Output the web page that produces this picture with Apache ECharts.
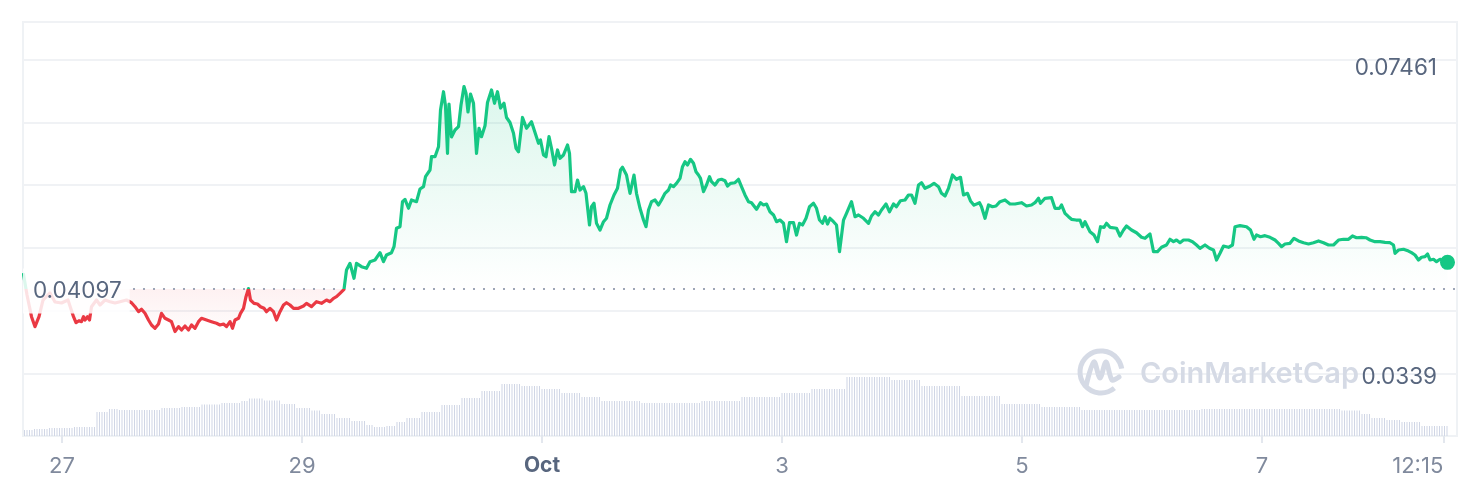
<!DOCTYPE html>
<html><head><meta charset="utf-8">
<script src="https://cdn.jsdelivr.net/npm/echarts@6/dist/echarts.min.js"></script>
<style>html,body{margin:0;padding:0;background:#fff}#c{width:1484px;height:502px}</style>
</head><body><div id="c"></div>
<script>
// Price data: [hours since Sep 27 00:00, price in USD]
const openPrice = 0.04097;
const highPrice = 0.07461;
const lowPrice = 0.0339;
const tickHours = [0, 48, 96, 144, 192, 240, 276.25];
const tickLabels = ['27', '29', 'Oct', '3', '5', '7', '12:15'];
const pricePoints = [
[-7.7,0.04341],[-7.0,0.03997],[-6.1,0.03637],[-5.4,0.03471],[-5.1,0.03449],[-4.6,0.03637],[-3.8,0.03914],[-2.4,0.04031],[-1.4,0.03881],[-0.1,0.03864],[1.2,0.03914],[2.3,0.03637],[2.8,0.03537],[3.4,0.03570],[3.9,0.03554],[4.3,0.03637],[4.6,0.03582],[5.1,0.03637],[5.5,0.03582],[5.9,0.03803],[6.9,0.03914],[7.6,0.03831],[8.6,0.03914],[9.6,0.03886],[10.6,0.03864],[11.6,0.03886],[12.9,0.03914],
[13.9,0.03869],[14.6,0.03803],[15.3,0.03720],[15.9,0.03760],[16.6,0.03693],[17.3,0.03582],[17.9,0.03499],[18.6,0.03444],[19.3,0.03515],[19.9,0.03693],[20.6,0.03610],[21.3,0.03582],[21.9,0.03554],[22.6,0.03390],[23.3,0.03471],[23.9,0.03416],[24.6,0.03483],[25.3,0.03416],[25.9,0.03499],[26.6,0.03444],[27.3,0.03554],[27.9,0.03610],[28.9,0.03582],[29.9,0.03554],[30.9,0.03527],[31.6,0.03499],[32.3,0.03515],[32.9,0.03471],[33.6,0.03554],[34.1,0.03444],[34.6,0.03582],[35.3,0.03610],[35.7,0.03693],[36.3,0.03776],[36.8,0.03969],[37.3,0.04105],[37.7,0.03914],[38.4,0.03859],[39.1,0.03848],[39.7,0.03803],[40.4,0.03776],[40.9,0.03720],[41.6,0.03776],[42.3,0.03720],[42.9,0.03582],[43.6,0.03720],[44.3,0.03831],[44.9,0.03869],[45.6,0.03831],[46.3,0.03776],[47.3,0.03776],[48.3,0.03814],[48.9,0.03859],[49.9,0.03803],[50.9,0.03886],[51.9,0.03859],[52.9,0.03914],[53.6,0.03886],[54.3,0.03942],[54.9,0.03969],[55.6,0.04025],[56.4,0.04090],
[56.9,0.04413],[57.6,0.04524],[58.4,0.04275],[58.9,0.04524],[59.9,0.04468],[60.9,0.04441],[61.6,0.04551],[62.6,0.04579],[63.6,0.04700],[64.3,0.04551],[64.9,0.04662],[65.9,0.04700],[66.4,0.04800],[66.9,0.05106],[67.6,0.05132],[68.1,0.05548],[68.6,0.05587],[69.3,0.05438],[69.9,0.05576],[70.9,0.05548],[71.6,0.05759],[72.3,0.05797],[72.7,0.05963],[73.6,0.06074],[73.9,0.06295],[74.6,0.06295],[75.3,0.06461],[75.7,0.07071],[76.3,0.07375],[76.7,0.07138],[77.1,0.06352],[77.4,0.07171],[77.9,0.06623],[78.6,0.06739],[79.3,0.06794],[79.8,0.07154],[80.4,0.07461],[80.8,0.07349],[81.2,0.07038],[81.7,0.07337],[82.3,0.07183],[82.9,0.06352],[83.4,0.06767],[83.9,0.06628],[84.6,0.06809],[85.1,0.07196],[85.9,0.07404],[86.5,0.07183],[87.1,0.07375],[87.7,0.07104],[88.4,0.07183],[88.9,0.06947],[89.6,0.06864],[90.3,0.06684],[90.8,0.06435],[91.3,0.06378],[92.1,0.06947],[92.9,0.06767],[93.9,0.06877],[94.6,0.06697],[95.3,0.06518],[95.7,0.06573],[96.3,0.06324],[96.8,0.06295],[97.4,0.06628],[97.9,0.06435],[98.5,0.06157],[99.1,0.06407],[99.6,0.06269],[100.3,0.06324],[101.1,0.06490],[101.5,0.06352],[101.9,0.05714],[102.6,0.05714],[103.1,0.05908],[103.6,0.05742],[104.3,0.05797],[104.8,0.05687],[105.5,0.05161],[105.9,0.05464],[106.4,0.05521],[106.9,0.05189],[107.6,0.05077],[108.3,0.05215],[108.9,0.05272],[109.6,0.05493],[110.4,0.05659],[111.1,0.05770],[111.7,0.06074],[112.1,0.06119],[112.9,0.05991],[113.6,0.05687],[113.9,0.05687],[114.4,0.05991],[114.9,0.05687],[115.6,0.05438],[116.3,0.05243],[116.8,0.05132],[117.3,0.05410],[117.9,0.05548],[118.6,0.05576],[119.3,0.05493],[119.9,0.05576],[120.6,0.05687],[121.3,0.05742],[121.7,0.05825],[122.3,0.05797],[122.9,0.05853],[123.6,0.05936],[124.1,0.06129],[124.6,0.06212],[125.1,0.06157],[125.7,0.06252],[126.3,0.06186],[126.8,0.06046],[127.3,0.05991],[127.7,0.05936],[128.3,0.05714],[128.9,0.05825],[129.5,0.05963],[129.9,0.05880],[130.6,0.05825],[131.3,0.05908],[131.9,0.05920],[132.6,0.05896],[133.1,0.05808],[133.7,0.05853],[134.6,0.05863],[135.3,0.05920],[135.9,0.05797],[136.6,0.05659],[137.3,0.05548],[137.9,0.05531],[138.9,0.05421],[139.7,0.05531],[140.3,0.05493],[140.9,0.05509],[141.6,0.05381],[142.3,0.05327],[142.9,0.05215],[143.6,0.05243],[144.3,0.05189],[144.9,0.04883],[145.5,0.05199],[146.3,0.05199],[146.9,0.04994],[147.5,0.05189],[148.1,0.05161],[148.8,0.05272],[149.5,0.05464],[150.3,0.05521],[150.9,0.05438],[151.5,0.05243],[152.1,0.05189],[152.6,0.05298],[153.1,0.05177],[153.6,0.05272],[154.3,0.05215],[154.9,0.05161],[155.5,0.04717],[155.9,0.04745],[156.3,0.05243],[156.9,0.05355],[157.9,0.05548],[158.6,0.05298],[159.3,0.05327],[160.3,0.05272],[161.3,0.05189],[161.9,0.05310],[162.6,0.05381],[163.3,0.05327],[163.9,0.05410],[164.8,0.05509],[165.5,0.05381],[166.3,0.05509],[166.9,0.05464],[167.7,0.05564],[168.6,0.05576],[169.3,0.05659],[169.9,0.05659],[170.6,0.05521],[171.3,0.05825],[171.9,0.05863],[172.6,0.05770],[173.6,0.05808],[174.4,0.05853],[175.3,0.05797],[175.9,0.05687],[176.6,0.05642],[177.3,0.05770],[178.1,0.05991],[178.9,0.05920],[179.7,0.05953],[180.3,0.05659],[181.1,0.05687],[181.7,0.05560],[182.4,0.05490],[182.8,0.05464],[183.5,0.05531],[183.9,0.05464],[184.6,0.05272],[185.3,0.05493],[186.1,0.05464],[186.8,0.05476],[187.6,0.05548],[188.6,0.05576],[189.6,0.05509],[190.6,0.05509],[191.9,0.05531],[192.9,0.05476],[193.9,0.05493],[194.6,0.05531],[195.3,0.05604],[195.7,0.05521],[196.6,0.05604],[197.9,0.05614],[198.6,0.05438],[199.5,0.05438],[199.9,0.05493],[200.6,0.05355],[201.3,0.05298],[201.9,0.05255],[202.8,0.05243],[203.6,0.05243],[204.1,0.05132],[204.6,0.05215],[205.1,0.05132],[205.6,0.05049],[206.4,0.04994],[207.1,0.04883],[207.7,0.05132],[208.4,0.05122],[208.9,0.05189],[209.6,0.05122],[210.9,0.05106],[211.6,0.04978],[212.3,0.05077],[212.9,0.05144],[213.9,0.05077],[214.9,0.05032],[215.9,0.04956],[216.6,0.04939],[217.6,0.05011],[218.3,0.04717],[219.1,0.04717],[219.9,0.04790],[220.9,0.04828],[221.6,0.04923],[222.3,0.04883],[222.9,0.04911],[223.6,0.04866],[224.3,0.04911],[225.3,0.04911],[226.1,0.04883],[226.9,0.04828],[227.6,0.04773],[228.6,0.04828],[229.5,0.04773],[230.3,0.04745],[230.9,0.04579],[231.6,0.04690],[232.3,0.04811],[233.3,0.04790],[234.1,0.04828],[234.6,0.05132],[235.6,0.05149],[236.9,0.05132],[237.7,0.05077],[238.4,0.04923],[238.9,0.04994],[239.7,0.04966],[240.6,0.04983],[241.6,0.04956],[242.6,0.04911],[243.3,0.04856],[243.9,0.04800],[244.6,0.04845],[245.6,0.04856],[246.4,0.04939],[247.3,0.04895],[248.3,0.04866],[249.3,0.04845],[250.3,0.04866],[251.3,0.04895],[252.3,0.04866],[253.3,0.04828],[254.3,0.04828],[255.3,0.04911],[256.3,0.04923],[257.3,0.04923],[258.1,0.04978],[258.9,0.04949],[259.9,0.04956],[260.8,0.04949],[261.6,0.04911],[262.6,0.04883],[263.6,0.04883],[264.6,0.04873],[265.6,0.04866],[266.3,0.04828],[266.6,0.04690],[267.3,0.04745],[268.3,0.04757],[269.3,0.04728],[269.9,0.04700],[270.6,0.04662],[271.3,0.04579],[271.9,0.04624],[272.6,0.04634],[273.1,0.04679],[273.6,0.04579],[274.3,0.04591],[274.9,0.04551],[275.6,0.04591],[276.3,0.04562],[277.1,0.04540]
];
// Volume, 30-minute bars from -7.5h, as runs of [number of bars, volume (M USD)]
const volumeStart = -7.5;
const volumeStep = 0.5;
const volumeRuns = [
[4,0.30],[6,0.35],[10,0.40],[9,0.45],[5,1.20],[4,1.35],[17,1.30],[8,1.40],[8,1.45],[8,1.58],[8,1.65],[3,1.75],[6,1.88],[7,1.78],[6,1.60],[6,1.40],[4,1.28],[6,1.10],[6,0.90],[6,0.75],[3,0.55],[5,0.45],[4,0.50],
[4,0.70],[6,0.90],[8,1.20],[8,1.55],[8,1.90],[8,2.25],[8,2.60],[8,2.50],[8,2.35],[8,2.15],[8,1.95],[16,1.75],[24,1.65],[16,1.75],[16,1.95],[12,2.15],[14,2.35],[18,2.95],[12,2.80],[16,2.50],[16,2.00],[16,1.60],[16,1.45],[16,1.30],[32,1.30],[56,1.35],[8,1.28],[4,1.10],[6,0.90],[6,0.80],[8,0.70],[11,0.50]
];

const volData = [];
let vi = 0;
volumeRuns.forEach(([n, v]) => { for (let k = 0; k < n; k++) { volData.push([volumeStart + volumeStep * vi, v]); vi++; } });

const GREEN = '#16c784', RED = '#ea3943';
const last = pricePoints[pricePoints.length - 1];
const chart = echarts.init(document.getElementById('c'));
chart.setOption({
  animation: false,
  backgroundColor: '#fff',
  grid: { left: 23, right: 27, top: 22, bottom: 66, show: true, borderColor: '#eff2f5', borderWidth: 2 },
  xAxis: {
    type: 'value', min: -7.8, max: 279,
    axisLine: { show: true, lineStyle: { color: '#eff2f5', width: 2 } },
    splitLine: { show: false },
    axisTick: { show: true, customValues: tickHours, length: 7, lineStyle: { color: '#e3e7ee', width: 2 } },
    axisLabel: {
      customValues: tickHours, margin: 19, color: '#808a9d', fontSize: 22, fontFamily: 'Inter',
      alignMaxLabel: 'right',
      formatter: function (v) {
        const i = tickHours.indexOf(v);
        const t = i >= 0 ? tickLabels[i] : '';
        return t === 'Oct' ? '{b|' + t + '}' : t;
      },
      rich: { b: { fontWeight: 'bold', color: '#58667e', fontSize: 21, fontFamily: 'Inter' } }
    }
  },
  yAxis: [
    { type: 'value', min: 0, max: 6.603, interval: 1, axisLine: { show: false }, axisTick: { show: false }, axisLabel: { show: false },
      splitLine: { show: true, lineStyle: { color: '#f0f2f5', width: 2 } } },
    { type: 'value', min: 0.016544, max: 0.085334, show: false, splitLine: { show: false } },
    { type: 'value', min: 0, max: 20.7, show: false, splitLine: { show: false } }
  ],
  visualMap: {
    type: 'piecewise', show: false, seriesIndex: 4, dimension: 1,
    pieces: [{ gt: openPrice, lte: 1, color: GREEN }, { gt: 0, lte: openPrice, color: RED }],
    outOfRange: { color: GREEN }
  },
  series: [
    { type: 'bar', yAxisIndex: 2, data: volData, barWidth: 1, itemStyle: { color: '#d0d6e5' }, silent: true, z: 1 },
    { type: 'line', yAxisIndex: 1, data: [[14.2, openPrice], [279, openPrice]], symbol: 'none', silent: true,
      lineStyle: { color: '#9ea6b7', width: 2, type: [2, 8] }, z: 2 },
    { type: 'line', yAxisIndex: 1, data: pricePoints.map(p => [p[0], Math.max(p[1], openPrice)]), symbol: 'none', silent: true,
      lineStyle: { width: 0, opacity: 0 },
      areaStyle: { origin: openPrice, color: new echarts.graphic.LinearGradient(0, 0, 0, 1, [
        { offset: 0, color: 'rgba(22,199,132,0.22)' }, { offset: 1, color: 'rgba(22,199,132,0.0)' }]) }, z: 2 },
    { type: 'line', yAxisIndex: 1, data: pricePoints.map(p => [p[0], Math.min(p[1], openPrice)]), symbol: 'none', silent: true,
      lineStyle: { width: 0, opacity: 0 },
      areaStyle: { origin: openPrice, color: new echarts.graphic.LinearGradient(0, 0, 0, 1, [
        { offset: 0, color: 'rgba(234,57,67,0.10)' }, { offset: 1, color: 'rgba(234,57,67,0.02)' }]) }, z: 2 },
    { type: 'line', yAxisIndex: 1, data: pricePoints, symbol: 'none', silent: true,
      lineStyle: { width: 3.2, join: 'round', cap: 'round' }, z: 3 },
    { type: 'scatter', yAxisIndex: 1, data: [last], symbolSize: 15, itemStyle: { color: GREEN, opacity: 1 }, silent: true, z: 4 }
  ],
  graphic: [
    { type: 'text', z: 100, style: { text: String(highPrice), x: 1437, y: 68, align: 'right', verticalAlign: 'middle', font: '22.5px Inter', fill: '#58667e' } },
    { type: 'text', z: 100, style: { text: String(lowPrice), x: 1437, y: 377, align: 'right', verticalAlign: 'middle', font: '22.5px Inter', fill: '#58667e' } },
    { type: 'text', z: 100, style: { text: String(openPrice), x: 23, y: 291, align: 'left', verticalAlign: 'middle', font: '22.5px Inter', fill: '#58667e',
      backgroundColor: 'rgba(255,255,255,0.85)', padding: [11, 8, 11, 10] } },
    { type: 'arc', z: 50, shape: { cx: 1101, cy: 372, r: 21, startAngle: Math.PI * 0.28, endAngle: Math.PI * 1.95, clockwise: true },
      style: { stroke: '#d5dae5', lineWidth: 5, fill: 'none' } },
    { type: 'polyline', z: 50, shape: { points: [[1086, 386], [1094, 362], [1100, 378], [1106, 362], [1112, 380], [1119, 377]], smooth: 0.3 },
      style: { stroke: '#d5dae5', lineWidth: 5, fill: 'none', lineJoin: 'round', lineCap: 'round' } },
    { type: 'text', z: 50, style: { text: 'CoinMarketCap', x: 1140, y: 374, align: 'left', verticalAlign: 'middle', font: '600 29px Inter', fill: '#d5dae5' } }
  ]
});
</script></body></html>
